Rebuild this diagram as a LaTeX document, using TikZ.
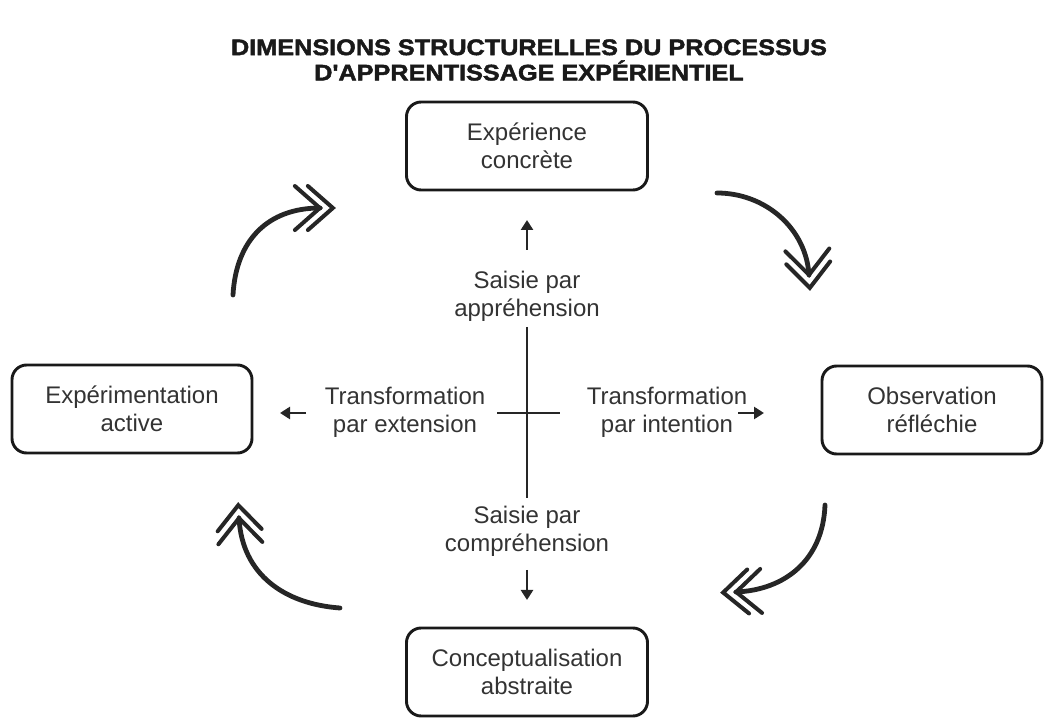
\documentclass[tikz,border=0pt]{standalone}
\usepackage{fontspec}
\setmainfont{Liberation Sans}
\newfontfamily\titlefont[FakeStretch=1.12,FakeBold=2]{Liberation Sans Bold}
\usetikzlibrary{arrows.meta,decorations.markings}
\begin{document}
\begin{tikzpicture}[x=0.75pt,y=-0.75pt,
  box/.style={draw=black!90,line width=2.2pt,rounded corners=11pt,minimum height=66pt,align=center,font=\fontsize{18}{21}\selectfont,text=black!80,inner sep=0pt},
  lbl/.style={align=center,font=\fontsize{18}{21}\selectfont,text=black!80,inner sep=0pt},
  cyc/.style={line width=3.6pt,line cap=round,draw=black!85,postaction={decorate},
    decoration={markings,mark=at position 0.999 with {\draw[line width=3pt,line cap=round,line join=miter,draw=black!85] (-25,-22) -- (0,0) -- (-25,22) (-12,-22) -- (13,0) -- (-12,22);}}},
  smallarr/.style={line width=2pt,draw=black!85,-{Triangle[length=7.5pt,width=9pt]}},
  crossline/.style={line width=2.2pt,draw=black!85}
]
\useasboundingbox (0,0) rectangle (1054,723);
% title
\node[font=\titlefont\fontsize{16.9}{19}\selectfont,align=center,text=black!90,inner sep=0pt] (title) at (529,60)
  {DIMENSIONS STRUCTURELLES DU PROCESSUS\\D'APPRENTISSAGE EXPÉRIENTIEL};
% boxes
\node[box,minimum width=180.75pt] (ec) at (527,146) {Expérience\\concrète};
\node[box,minimum width=180pt] (ea) at (132,409) {Expérimentation\\active};
\node[box,minimum width=165pt] (or) at (932,410) {Observation\\réfléchie};
\node[box,minimum width=180.75pt] (ca) at (527,672) {Conceptualisation\\abstraite};
% labels
\node[lbl] (sa) at (527,296) {Saisie par\\appréhension};
\node[lbl] (sc) at (527,531) {Saisie par\\compréhension};
\node[lbl] (te) at (405,412) {Transformation\\par extension};
\node[lbl] (ti) at (667,412) {Transformation\\par intention};
% cross
\coordinate (vt) at (527,327);
\coordinate (vb) at (527,498);
\coordinate (hl) at (497,413);
\coordinate (hr) at (560,413);
\draw[crossline] (vt) -- (vb);
\draw[crossline] (hl) -- (hr);
% small arrows
\coordinate (u1) at (527,250); \coordinate (u2) at (527,220);
\coordinate (d1) at (527,570); \coordinate (d2) at (527,600);
\coordinate (l1) at (306,413); \coordinate (l2) at (280,413);
\coordinate (r1) at (738,413); \coordinate (r2) at (764,413);
\draw[smallarr] (u1) -- (u2);
\draw[smallarr] (d1) -- (d2);
\draw[smallarr] (l1) -- (l2);
\draw[smallarr] (r1) -- (r2);
% cycle arrows
\coordinate (a1s) at (233,295); \coordinate (a1e) at (320,208);
\coordinate (a2s) at (717,193); \coordinate (a2e) at (809,275);
\coordinate (a3s) at (825,505); \coordinate (a3e) at (736,592);
\coordinate (a4s) at (340,608); \coordinate (a4e) at (239,518);
\draw[cyc] (a1s) .. controls (236,240) and (268,208) .. (a1e);
\draw[cyc] (a2s) .. controls (765,193) and (806,228) .. (a2e);
\draw[cyc] (a3s) .. controls (823,560) and (785,590) .. (a3e);
\draw[cyc] (a4s) .. controls (285,604) and (242,575) .. (a4e);
\end{tikzpicture}
\end{document}
